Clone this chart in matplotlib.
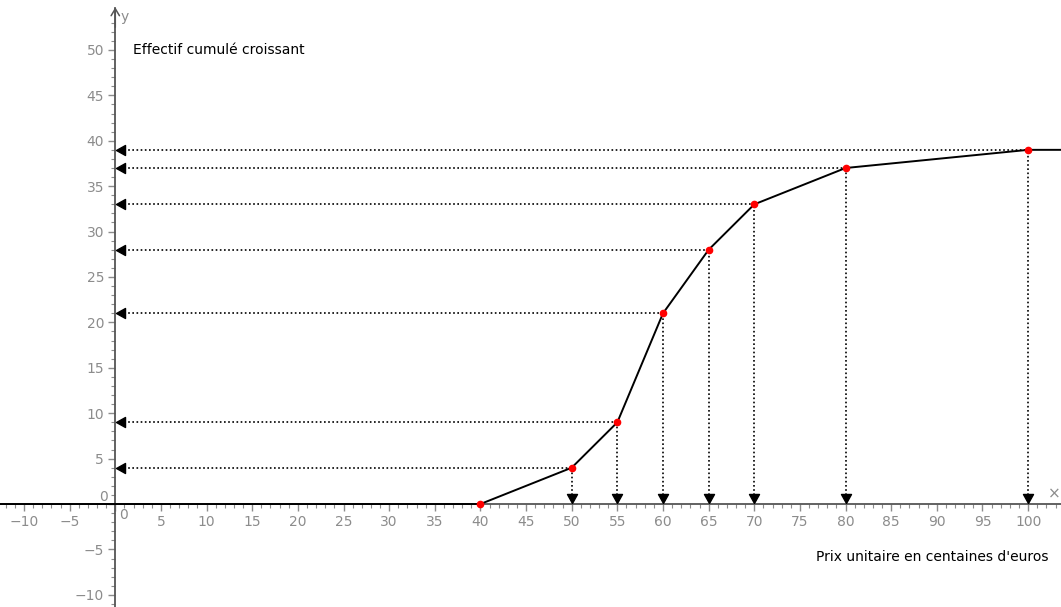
import matplotlib.pyplot as plt
from matplotlib.ticker import MultipleLocator, FixedLocator, FuncFormatter

# polygone des effectifs cumulés croissants
prix = [40, 50, 55, 60, 65, 70, 80, 100]
effectifs = [0, 4, 9, 21, 28, 33, 37, 39]

x_min, x_max = -12.63, 103.6
y_min, y_max = -11.34, 55.5

grey = '#8c8c8c'


def fmt(v, p, top=None):
    if abs(v) < 1e-9 or (top is not None and v > top):
        return ''
    return '\u2212%d' % -v if v < 0 else '%d' % v


fig = plt.figure(figsize=(10.61, 6.07), dpi=100)
ax = fig.add_axes([0, 0, 1, 1])
ax.set_xlim(x_min, x_max)
ax.set_ylim(y_min, y_max)

# axes qui se croisent en (0,0)
for s in ['top', 'right']:
    ax.spines[s].set_visible(False)
ax.spines['left'].set_position(('data', 0))
ax.spines['bottom'].set_position(('data', 0))
ax.spines['left'].set_bounds(y_min, 54.6)
for s in ['left', 'bottom']:
    ax.spines[s].set_color('#555555')
    ax.spines[s].set_linewidth(1.3)

ax.xaxis.set_major_locator(MultipleLocator(5))
ax.xaxis.set_minor_locator(MultipleLocator(1))
ax.yaxis.set_major_locator(FixedLocator(range(-10, 51, 5)))
ax.yaxis.set_minor_locator(FixedLocator(range(-11, 54)))
ax.xaxis.set_major_formatter(FuncFormatter(fmt))
ax.yaxis.set_major_formatter(FuncFormatter(fmt))
ax.tick_params(which='major', direction='out', length=5, width=1, color=grey,
               labelcolor=grey, labelsize=10, pad=3)
ax.tick_params(which='minor', direction='out', length=3, width=0.8, color=grey)
ax.text(0.9, -0.4, '0', color=grey, fontsize=10, ha='center', va='top')
ax.text(-0.8, 0.8, '0', color=grey, fontsize=10, ha='right', va='center')

# flèche de l'axe des y et noms des axes
ax.annotate('', xy=(0, 54.7), xytext=(0, 52.5),
            arrowprops=dict(arrowstyle='->,head_length=0.5,head_width=0.3', color='#555555',
                            lw=1.1, shrinkA=0, shrinkB=0))
ax.text(0.6, 53.6, 'y', color=grey, fontsize=10, ha='left', va='center')
ax.text(102.9, 1.1, '\u00d7', color=grey, fontsize=11, ha='center', va='center')

# courbe
xs = [x_min] + prix + [x_max]
ys = [0] + effectifs + [effectifs[-1]]
ax.plot(xs, ys, color='black', lw=1.4, zorder=4, clip_on=False)

# tirets de projection avec pointes de flèche
left_tri = [(0, 0), (1.8, 1), (1.8, -1), (0, 0)]
down_tri = [(0, 0), (1, 1.8), (-1, 1.8), (0, 0)]
for px, py in zip(prix, effectifs):
    if py > 0:
        ax.plot([1.0, px], [py, py], color='black', lw=1.2, ls=(0, (1, 1.5)), zorder=3)
        ax.plot([0.1], [py], marker=left_tri, ms=13, color='black', zorder=5)
    if px > 40:
        ax.plot([px, px], [1.0, py], color='black', lw=1.2, ls=(0, (1, 1.5)), zorder=3)
        ax.plot([px], [0.1], marker=down_tri, ms=13, color='black', zorder=5)

ax.plot(prix, effectifs, 'o', color='red', ms=4.5, zorder=6, clip_on=False)

ax.text(1.95, 50, 'Effectif cumulé croissant', fontsize=10, ha='left', va='center')
ax.text(102.2, -5.8, "Prix unitaire en centaines d'euros", fontsize=10, ha='right', va='center')

fig.savefig('out.png', dpi=100)
